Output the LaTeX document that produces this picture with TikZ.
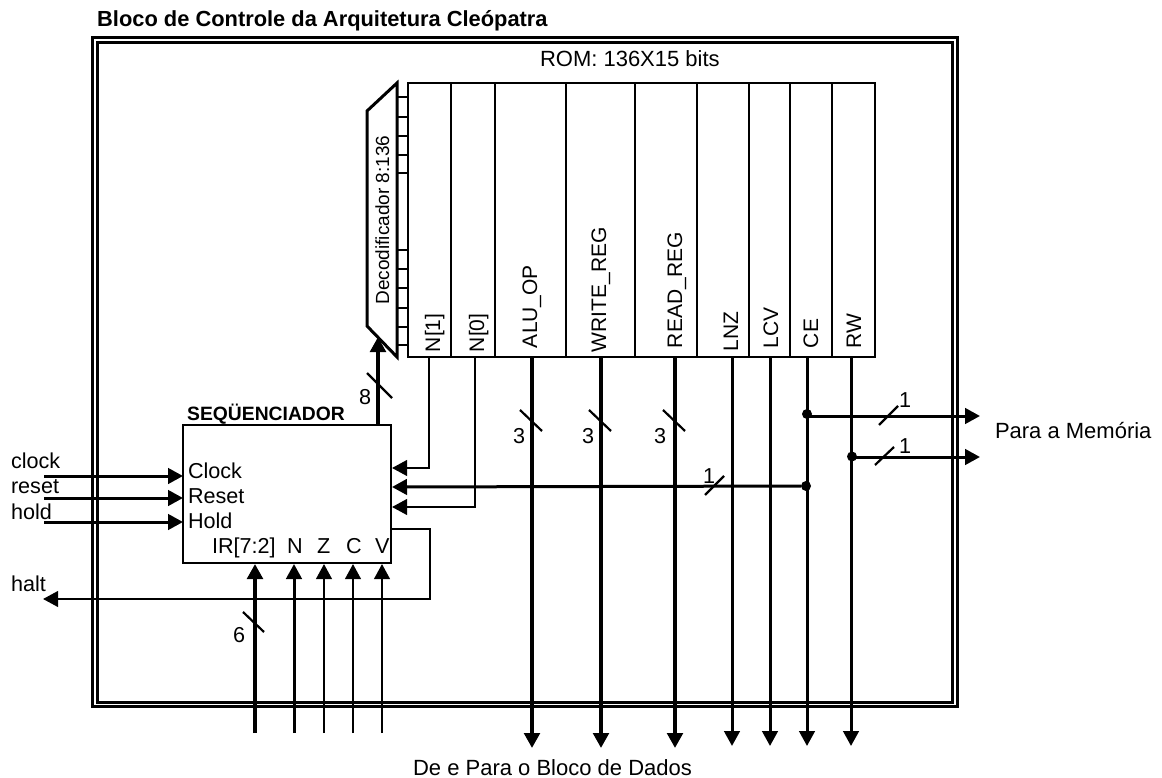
\documentclass[tikz,border=0pt]{standalone}
\usepackage{fontspec}
\setmainfont{Liberation Sans}
\usetikzlibrary{arrows.meta}
\tikzset{
  x=1pt,y=-1pt,
  tx/.style={inner sep=0pt,outer sep=0pt,font=\fontsize{21.6}{24}\selectfont},
  lab/.style={tx,anchor=base west},
  biglab/.style={inner sep=0pt,outer sep=0pt,font=\fontsize{22}{24}\selectfont},
  vlab/.style={inner sep=0pt,outer sep=0pt,font=\fontsize{21}{24}\selectfont,rotate=90,anchor=base west},
  bold/.style={inner sep=0pt,anchor=base west,font=\fontsize{19.3}{22}\selectfont\bfseries},
  thin wire/.style={line width=2.4pt},
  mid wire/.style={line width=3pt},
  bus/.style={line width=4.5pt},
  tipped/.style={-{Triangle[length=15pt,width=15.5pt]}},
  slashmark/.style={line width=2.2pt},
  frameline/.style={line width=3pt},
  boxline/.style={draw,line width=2.8pt,inner sep=0pt,outer sep=0pt},
  dot/.style={circle,fill=black,inner sep=0pt,minimum size=10pt},
}
\begin{document}
\begin{tikzpicture}[line cap=butt,line join=miter]
\useasboundingbox (0,0) rectangle (1162,778);
% frame
\node[draw,frameline,inner sep=0pt,minimum width=865pt,minimum height=668.5pt,anchor=north west] (outer) at (90.5,36.5) {};
\node[draw,frameline,inner sep=0pt,minimum width=855.5pt,minimum height=659pt,anchor=north west] (inner) at (95.5,41.5) {};
% title
\node[inner sep=0pt,anchor=base west,font=\fontsize{21.85}{24}\selectfont\bfseries] (title) at (97,27) {Bloco de Controle da Arquitetura Cleópatra};
\node[biglab,anchor=base west] (romt) at (540,67) {ROM: 136X15 bits};
% ROM
\node[boxline,minimum width=467pt,minimum height=274pt,anchor=north west] (rom) at (408,83) {};
\foreach \n/\x in {a/451,b/495,c/566,d/635,e/697,f/749,g/790,h/832}{
  \coordinate (t\n) at (\x,83);
  \coordinate (u\n) at (\x,357);
  \draw[thin wire] (t\n) -- (u\n);
}
% decoder
\coordinate (d1) at (397,83);
\coordinate (d2) at (367,111);
\coordinate (d3) at (367,326);
\coordinate (d4) at (397,357);
\draw[line width=3pt] (d1) -- (d2) -- (d3) -- (d4) -- cycle;
\foreach \y in {97,117,136,155,173,250,269,288,308,327,345}{
  \coordinate (p\y) at (397,\y);
  \coordinate (q\y) at (408,\y);
  \draw[line width=2.4pt] (p\y) -- (q\y);
}
\node[inner sep=0pt,outer sep=0pt,font=\fontsize{19}{22}\selectfont,rotate=90,anchor=base] (dec) at (389,220) {Decodificador 8:136};
% rom labels
\node[vlab] (l1) at (440,352) {N[1]};
\node[vlab] (l2) at (484,352) {N[0]};
\node[vlab] (l3) at (537,348) {ALU\_OP};
\node[vlab] (l4) at (606,352) {WRITE\_REG};
\node[vlab] (l5) at (682,348) {READ\_REG};
\node[vlab] (l6) at (738,351) {LNZ};
\node[vlab] (l7) at (778,348) {LCV};
\node[vlab] (l8) at (818,348) {CE};
\node[vlab] (l9) at (861,348) {RW};
% sequencer
\node[boxline,minimum width=208pt,minimum height=138pt,anchor=north west] (seq) at (183,425) {};
\node[bold] (seqt) at (187,420) {SEQÜENCIADOR};
\node[lab] (clk) at (188,478) {Clock};
\node[lab] (rst) at (188,503) {Reset};
\node[lab] (hld) at (188,528) {Hold};
\node[lab] (irt) at (212,553) {IR[7:2]};
\node[lab] (nt) at (287,553) {N};
\node[lab] (zt) at (317,553) {Z};
\node[lab] (ct) at (346,553) {C};
\node[lab] (vt) at (375,553) {V};
\node[lab] (clock) at (11,468) {clock};
\node[lab] (reset) at (11,493) {reset};
\node[lab] (hold) at (11,519) {hold};
\node[lab] (halt) at (11,591) {halt};
% left inputs
\coordinate (ci) at (44,476); \coordinate (ce) at (seq.west |- ci);
\coordinate (ri) at (44,498); \coordinate (re) at (seq.west |- ri);
\coordinate (hi) at (44,522); \coordinate (he) at (seq.west |- hi);
\draw[mid wire,tipped] (ci) -- (ce);
\draw[mid wire,tipped] (ri) -- (re);
\draw[mid wire,tipped] (hi) -- (he);
% 8 bus
\coordinate (b8s) at (378,425);
\coordinate (b8e) at (378,337);
\draw[bus,tipped] (b8s) -- (b8e);
\coordinate (s8a) at (367,373); \coordinate (s8b) at (392,398);
\draw[slashmark] (s8a) -- (s8b);
\node[lab] (n8) at (359,404) {8};
% N[1], N[0]
\coordinate (n1t) at (429,357); \coordinate (n1c) at (429,468); \coordinate (n1e) at (392,468);
\draw[thin wire,tipped] (n1t) -- (n1c) -- (n1e);
\coordinate (n0t) at (475,357); \coordinate (n0c) at (475,507); \coordinate (n0e) at (392,507);
\draw[thin wire,tipped] (n0t) -- (n0c) -- (n0e);
% halt
\coordinate (h0) at (391,529); \coordinate (h1) at (430,529); \coordinate (h2) at (430,599); \coordinate (h3) at (43,599);
\draw[thin wire,tipped] (h0) -- (h1) -- (h2) -- (h3);
% bottom inputs
\coordinate (irb) at (255,733); \coordinate (irt2) at (255,564);
\draw[bus,tipped] (irb) -- (irt2);
\foreach \n/\x/\w in {nn/294/3pt,zz/324/2.4pt,cc/353/2.4pt,vv/382/2.4pt}{
  \coordinate (\n b) at (\x,733); \coordinate (\n t) at (\x,564);
  \draw[line width=\w,tipped] (\n b) -- (\n t);
}
\coordinate (s6a) at (243,612); \coordinate (s6b) at (264,632);
\draw[slashmark] (s6a) -- (s6b);
\node[lab] (n6) at (233,642) {6};
% outputs
\foreach \n/\x/\lx in {o1/532/513,o2/601/582,o3/675/654}{
  \coordinate (\n t) at (\x,357); \coordinate (\n b) at (\x,748);
  \draw[bus,tipped] (\n t) -- (\n b);
  \coordinate (\n sa) at ({\x-12},410); \coordinate (\n sb) at ({\x+10},431);
  \draw[slashmark] (\n sa) -- (\n sb);
  \node[lab] (\n l) at (\lx,443) {3};
}
\foreach \n/\x in {o4/732,o5/770,o6/807,o7/851}{
  \coordinate (\n t) at (\x,357); \coordinate (\n b) at (\x,746);
  \draw[mid wire,tipped] (\n t) -- (\n b);
}
% CE to memory
\node[dot] (dce) at (807,414) {};
\coordinate (mem1) at (980,416);
\coordinate (dce1) at (807,416);
\draw[mid wire,tipped] (dce1) -- (mem1);
\coordinate (sa) at (879,425); \coordinate (sb) at (898,406);
\draw[slashmark] (sa) -- (sb);
\node[lab] (one1) at (899,407) {1};
% RW to memory
\node[dot] (drw) at (852,456.5) {};
\coordinate (mem2) at (980,457);
\coordinate (drw1) at (851,457);
\draw[mid wire,tipped] (drw1) -- (mem2);
\coordinate (sc) at (875,465); \coordinate (sd) at (894,447);
\draw[slashmark] (sc) -- (sd);
\node[lab] (one2) at (899,453) {1};
% feedback CE
\node[dot] (dfb) at (806,486) {};
\coordinate (fbe) at (392,487);
\draw[mid wire,tipped] (dfb) -- (fbe);
\coordinate (se) at (705,495); \coordinate (sf) at (724,476);
\draw[slashmark] (se) -- (sf);
\node[lab] (one3) at (703,483) {1};
\node[biglab,anchor=base west] (mem) at (995,438) {Para a Memória};
\node[biglab,anchor=base] (dados) at (552.5,775) {De e Para o Bloco de Dados};
\end{tikzpicture}
\end{document}
